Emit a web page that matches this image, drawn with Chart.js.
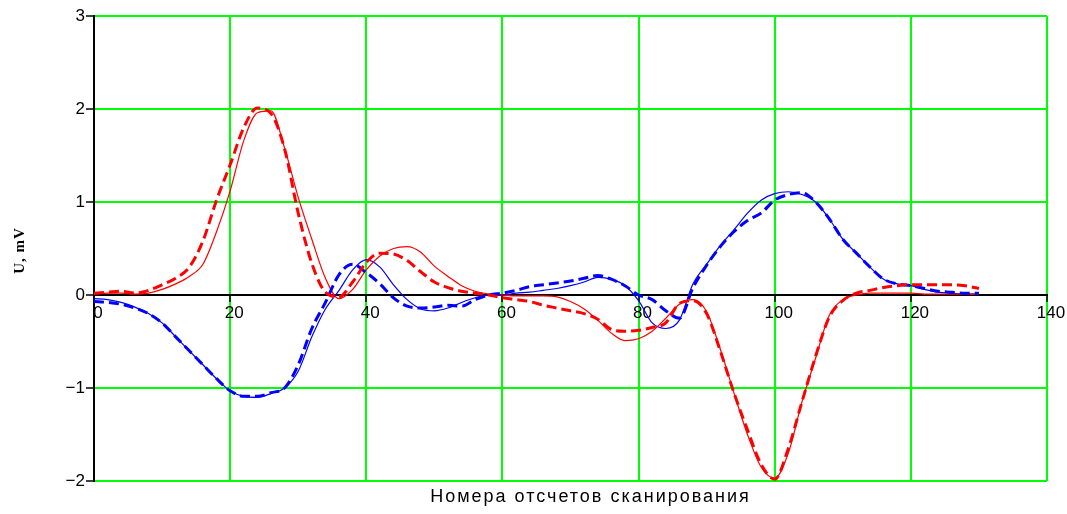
<!DOCTYPE html>
<html>
<head>
<meta charset="utf-8">
<script src="https://cdn.jsdelivr.net/npm/chart.js@4/dist/chart.umd.min.js"></script>
<style>
  html, body { margin: 0; padding: 0; background: #fff; }
  #wrap { width: 1067px; height: 514px; }
</style>
</head>
<body>
<div id="wrap"><canvas id="scan"></canvas></div>
<script>
// sample numbers (x) shared by all four curves
var sampleNo = [0, 2, 4, 6, 8, 10, 12, 14, 16, 18,
  20, 22, 24, 26, 28, 30, 32, 34, 36, 38,
  40, 42, 44, 46, 48, 50, 52, 54, 56, 58,
  60, 62, 64, 66, 68, 70, 72, 74, 76, 78,
  80, 82, 84, 86, 88, 90, 92, 94, 96, 98,
  100, 102, 104, 106, 108, 110, 112, 114, 116, 118,
  120, 122, 124, 126, 128, 130];

// U, mV
var redDashed = [0.02, 0.03, 0.04, 0.02, 0.05, 0.11, 0.18, 0.30, 0.58, 1.02,
  1.40, 1.80, 2.01, 1.95, 1.57, 0.88, 0.34, 0.03, -0.02, 0.14,
  0.35, 0.45, 0.44, 0.37, 0.25, 0.14, 0.08, 0.04, 0.02, 0.00,
  -0.03, -0.05, -0.07, -0.11, -0.14, -0.17, -0.20, -0.26, -0.37, -0.39,
  -0.38, -0.35, -0.30, -0.09, -0.06, -0.20, -0.60, -1.05, -1.45, -1.82,
  -1.98, -1.65, -1.15, -0.66, -0.24, -0.06, 0.02, 0.05, 0.08, 0.10,
  0.11, 0.11, 0.11, 0.11, 0.10, 0.07];

var redSolid = [0.01, 0.02, 0.02, 0.01, 0.02, 0.06, 0.12, 0.20, 0.33, 0.68,
  1.12, 1.66, 1.96, 1.98, 1.58, 1.05, 0.60, 0.18, -0.04, 0.06,
  0.27, 0.42, 0.50, 0.52, 0.46, 0.31, 0.20, 0.10, 0.04, 0.01,
  0.00, -0.01, -0.01, -0.01, -0.02, -0.07, -0.15, -0.27, -0.41, -0.49,
  -0.47, -0.39, -0.25, -0.10, -0.05, -0.18, -0.58, -1.05, -1.50, -1.85,
  -1.97, -1.70, -1.15, -0.68, -0.22, -0.05, 0.00, 0.02, 0.02, 0.02,
  0.02, 0.01, 0.01, 0.01, 0.01, 0.01];

var blueDashed = [-0.07, -0.08, -0.10, -0.14, -0.20, -0.30, -0.45, -0.60, -0.75, -0.90,
  -1.03, -1.09, -1.09, -1.05, -1.00, -0.75, -0.36, -0.08, 0.22, 0.33,
  0.24, 0.12, -0.03, -0.12, -0.14, -0.13, -0.11, -0.12, -0.05, 0.00,
  0.02, 0.05, 0.09, 0.11, 0.13, 0.15, 0.18, 0.21, 0.17, 0.10,
  0.00, -0.05, -0.17, -0.25, 0.08, 0.32, 0.52, 0.68, 0.80, 0.88,
  1.02, 1.08, 1.10, 1.00, 0.82, 0.60, 0.45, 0.30, 0.17, 0.12,
  0.10, 0.07, 0.04, 0.03, 0.02, 0.02];

var blueSolid = [-0.04, -0.05, -0.08, -0.13, -0.20, -0.30, -0.45, -0.60, -0.75, -0.90,
  -1.03, -1.09, -1.10, -1.06, -1.00, -0.82, -0.45, -0.15, 0.05, 0.27,
  0.38, 0.30, 0.11, -0.05, -0.15, -0.17, -0.14, -0.08, -0.03, 0.00,
  0.00, 0.02, 0.03, 0.05, 0.07, 0.10, 0.14, 0.19, 0.17, 0.10,
  -0.06, -0.30, -0.36, -0.27, 0.12, 0.33, 0.53, 0.70, 0.88, 1.02,
  1.09, 1.11, 1.08, 1.00, 0.82, 0.60, 0.45, 0.30, 0.17, 0.12,
  0.10, 0.06, 0.03, 0.02, 0.01, 0.01];

var xTitle = 'Номера отсчетов сканирования';
var yTitle = 'U, mV';

var GREEN = '#00ff00';

function points(ys) {
  return sampleNo.map(function(x, i) { return {x: x, y: ys[i]}; });
}

function curve(ys, color, dashed) {
  return {
    data: points(ys),
    borderColor: color,
    borderWidth: dashed ? 3 : 1.2,
    borderDash: dashed ? [10, 5] : [],
    pointRadius: 0,
    fill: false,
    cubicInterpolationMode: 'monotone'
  };
}

// axis captions drawn at fixed spots like the original sheet
var captions = {
  id: 'captions',
  afterDraw: function(chart) {
    var ctx = chart.ctx, a = chart.chartArea;
    ctx.save();
    ctx.fillStyle = '#000';
    ctx.textAlign = 'center';
    ctx.textBaseline = 'middle';
    ctx.font = '18px "Liberation Sans", Arial, sans-serif';
    ctx.letterSpacing = '2px';
    ctx.fillText(xTitle, (a.left + a.right) / 2 + 20, a.bottom + 16);
    ctx.translate(20, (a.top + a.bottom) / 2 + 2);
    ctx.rotate(-Math.PI / 2);
    ctx.font = 'bold 15px "Liberation Serif", "Times New Roman", serif';
    ctx.letterSpacing = '1px';
    ctx.fillText(yTitle, 0, 0);
    ctx.restore();
  }
};

var tickFont = {family: '"Liberation Sans", Arial, sans-serif', size: 17};

new Chart(document.getElementById('scan'), {
  type: 'line',
  data: {
    datasets: [
      curve(redDashed, '#ff0000', true),
      curve(blueDashed, '#0000ff', true),
      curve(redSolid, '#ff0000', false),
      curve(blueSolid, '#0000ff', false)
    ]
  },
  options: {
    responsive: true,
    maintainAspectRatio: false,
    animation: false,
    layout: {padding: {top: 16, right: 20, bottom: 33, left: 0}},
    plugins: {
      legend: {display: false},
      tooltip: {enabled: false}
    },
    scales: {
      x: {
        type: 'linear',
        position: {y: 0},
        min: 0,
        max: 140,
        ticks: {
          stepSize: 20,
          color: '#000',
          font: tickFont,
          padding: 2,
          labelOffset: 4,
          maxRotation: 0
        },
        grid: {
          color: function(c) { return c.tick && c.tick.value === 0 ? 'rgba(0,0,0,0)' : GREEN; },
          lineWidth: 2,
          tickColor: '#000',
          tickLength: 6,
          tickWidth: 1.5
        },
        border: {display: true, color: '#000', width: 2}
      },
      y: {
        position: 'left',
        min: -2,
        max: 3,
        afterFit: function(scale) { scale.width = 94; },
        ticks: {
          stepSize: 1,
          color: '#000',
          font: tickFont,
          padding: 1,
          callback: function(v) { return v < 0 ? '\u2212' + Math.abs(v) : String(v); }
        },
        grid: {
          color: GREEN,
          lineWidth: 2,
          tickColor: '#000',
          tickLength: 8,
          tickWidth: 1.5
        },
        border: {display: true, color: '#000', width: 2}
      }
    }
  },
  plugins: [captions]
});
</script>
</body>
</html>
